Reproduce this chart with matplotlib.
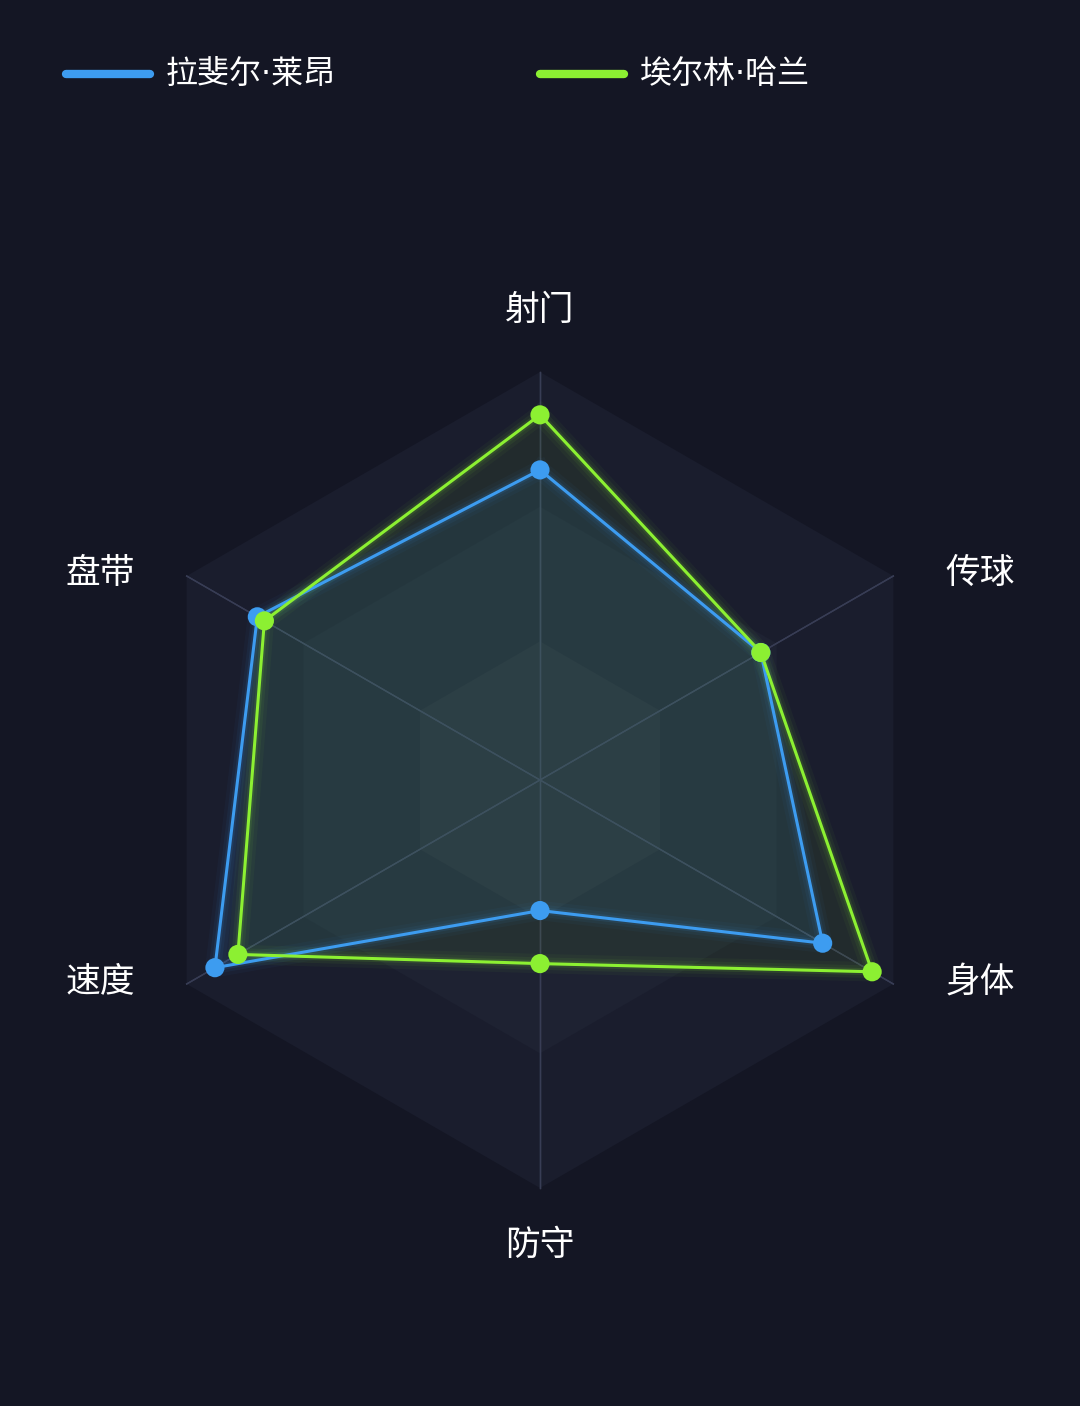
import numpy as np
import matplotlib
matplotlib.use("Agg")
from matplotlib import pyplot as plt
from matplotlib.patches import Polygon

plt.rcParams['font.family'] = ['Noto Sans CJK SC', 'DejaVu Sans']

# axes go clockwise from the top
categories = ['射门', '传球', '身体', '防守', '速度', '盘带']
players = ['拉斐尔·莱昂', '埃尔林·哈兰']
leao = [0.76, 0.625, 0.80, 0.32, 0.92, 0.80]
haaland = [0.895, 0.625, 0.94, 0.45, 0.855, 0.78]
levels = [1.0, 0.67, 0.34]

bg = '#141624'
blue = '#3d9cf0'
green = '#8cf032'
ring_colors = ['#1a1d2d', '#1e2232', '#232837']

W, H = 1080, 1406
cx, cy, R = 540, 780, 408

fig = plt.figure(figsize=(W / 100, H / 100), dpi=100, facecolor=bg)
ax = fig.add_axes([0, 0, 1, 1])
ax.set_facecolor(bg)
ax.set_xlim(-cx / R, (W - cx) / R)
ax.set_ylim(-(H - cy) / R, cy / R)
ax.set_aspect('equal')
ax.axis('off')

angles = np.pi / 2 - np.arange(len(categories)) * 2 * np.pi / len(categories)
ux, uy = np.cos(angles), np.sin(angles)

# background hexagon bands
for lev, col in zip(levels, ring_colors):
    ax.add_patch(Polygon(np.c_[ux * lev, uy * lev], closed=True,
                         facecolor=col, edgecolor='none', zorder=1))

# spokes
for x, y in zip(ux, uy):
    ax.plot([-x, x], [-y, y], color='#383d55', lw=1, zorder=2)

# series
for vals, col, falpha in [(leao, blue, 0.09), (haaland, green, 0.07)]:
    v = np.array(vals)
    px, py = ux * v, uy * v
    ax.add_patch(Polygon(np.c_[px, py], closed=True, facecolor=col,
                         alpha=falpha, edgecolor='none', zorder=3))
    cxs, cys = np.r_[px, px[0]], np.r_[py, py[0]]
    for glw, ga in [(14, 0.04), (9, 0.06), (5, 0.10)]:
        ax.plot(cxs, cys, color=col, lw=glw, alpha=ga, solid_joinstyle='round', zorder=4)
    ax.plot(cxs, cys, color=col, lw=2.2, zorder=5)
    ax.scatter(px, py, s=190, color=col, edgecolor='none', zorder=6)

# labels
lab_pos = [(0, 1.152), (1.078, 0.507), (1.078, -0.495),
           (0, -1.14), (-1.078, -0.495), (-1.078, 0.507)]
for name, (lx, ly) in zip(categories, lab_pos):
    ax.text(lx, ly, name, color='white', fontsize=25, fontweight='medium',
            ha='center', va='center', zorder=7)

# legend at top; DejaVu first so the middle dot stays narrow
for i, (name, col) in enumerate(zip(players, [blue, green])):
    x0 = 66 + i * 474
    fig.add_artist(plt.Line2D([x0 / W, (x0 + 84) / W], [1 - 74 / H, 1 - 74 / H],
                              color=col, lw=6, solid_capstyle='round'))
    fig.text((x0 + 100) / W, 1 - 74 / H, name, color='white', fontsize=23,
             family=['DejaVu Sans', 'Noto Sans CJK SC'], fontweight='medium',
             ha='left', va='center')

fig.savefig('out.png', dpi=100, facecolor=bg)
